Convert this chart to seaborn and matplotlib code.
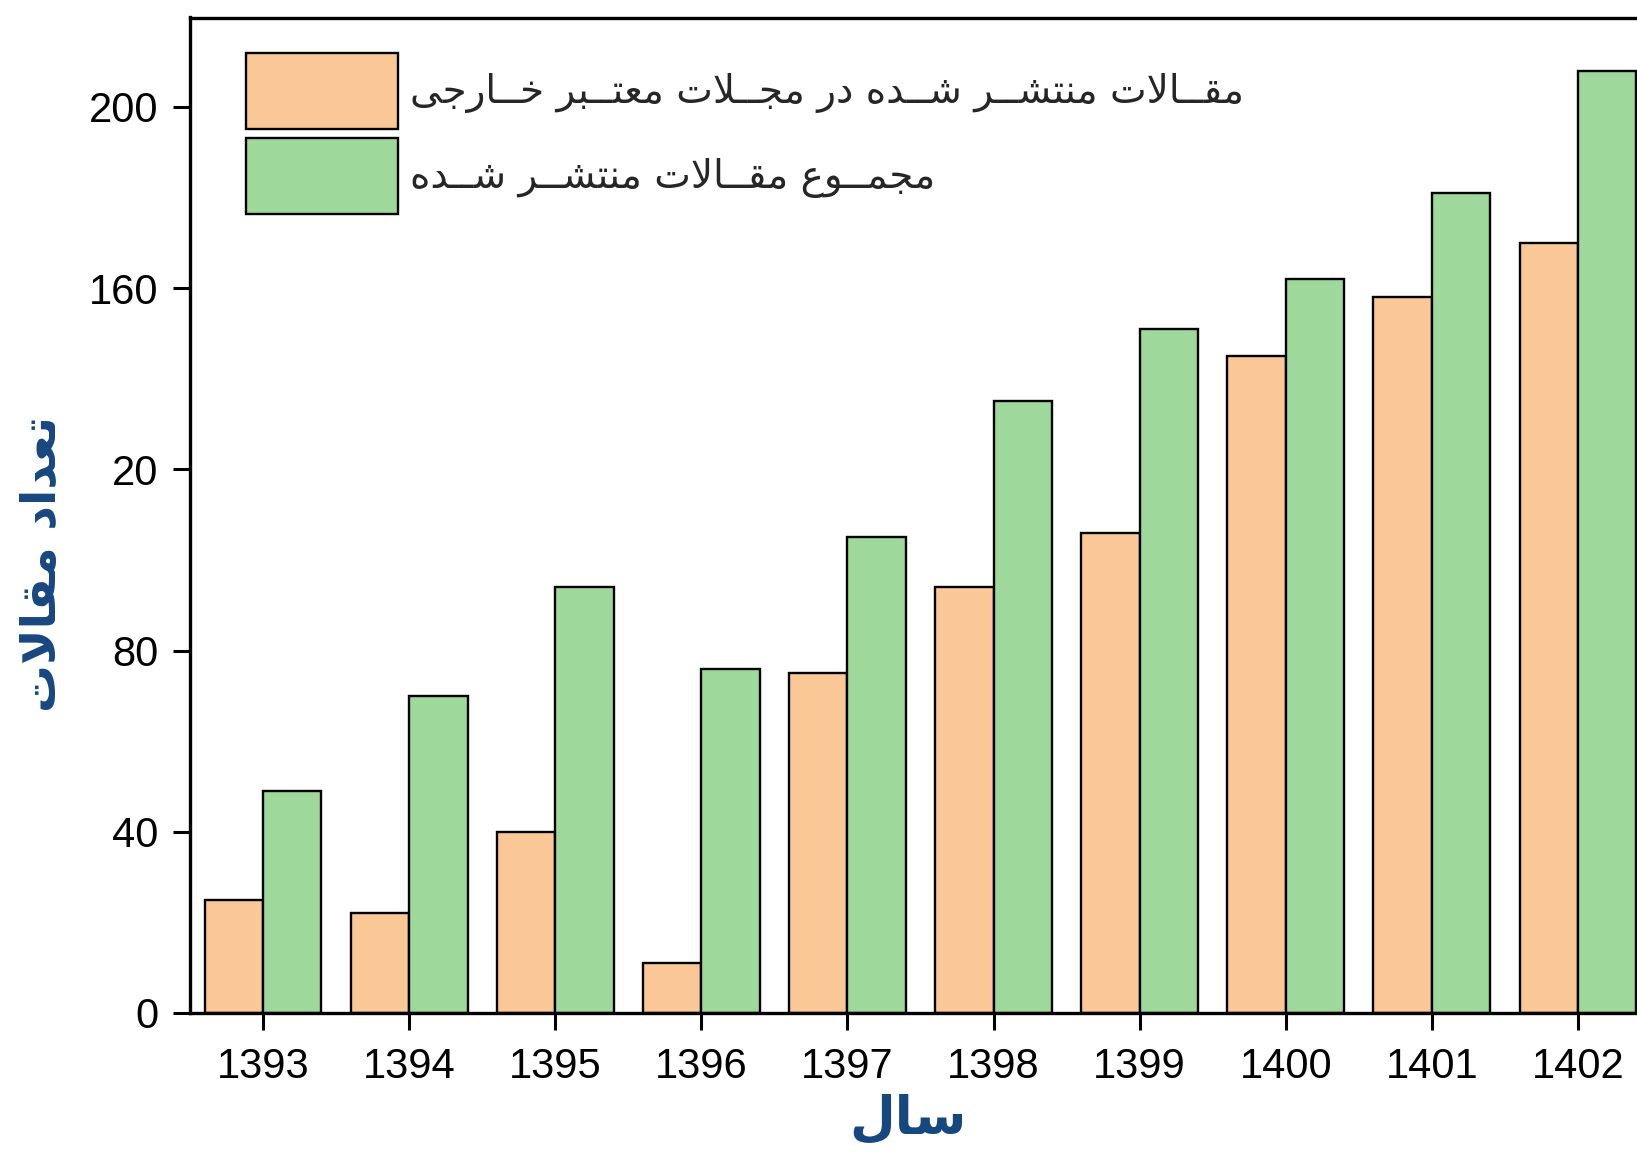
import numpy as np
import pandas as pd
import matplotlib
matplotlib.use("Agg")
import matplotlib.pyplot as plt
import seaborn as sns
from matplotlib.patches import Patch

# ---------------- data ----------------
years = ["1393", "1394", "1395", "1396", "1397", "1398", "1399", "1400", "1401", "1402"]
foreign_journals = [25, 22, 40, 11, 75, 94, 106, 145, 158, 170]
total_articles = [49, 70, 94, 76, 105, 135, 151, 162, 181, 208]
label_foreign = "مقــالات منتشــر شــده در مجــلات معتــبر خــارجی"
label_total = "مجمــوع مقــالات منتشــر شــده"
ytick_values = [0, 40, 80, 120, 160, 200]
ytick_labels = ["0", "40", "80", "20", "160", "200"]
xlabel_text = "سال"
ylabel_text = "تعداد مقالات"
bar_colors = ["#FAC896", "#9FD89B"]
label_color = "#17477F"

# ------------- minimal Arabic/Persian shaping (visual order) -------------
FORMS = {
    "\u0627": ("\uFE8D", "\uFE8E", None, None),
    "\u0628": ("\uFE8F", "\uFE90", "\uFE91", "\uFE92"),
    "\u062A": ("\uFE95", "\uFE96", "\uFE97", "\uFE98"),
    "\u062C": ("\uFE9D", "\uFE9E", "\uFE9F", "\uFEA0"),
    "\u062E": ("\uFEA5", "\uFEA6", "\uFEA7", "\uFEA8"),
    "\u062F": ("\uFEA9", "\uFEAA", None, None),
    "\u0631": ("\uFEAD", "\uFEAE", None, None),
    "\u0633": ("\uFEB1", "\uFEB2", "\uFEB3", "\uFEB4"),
    "\u0634": ("\uFEB5", "\uFEB6", "\uFEB7", "\uFEB8"),
    "\u0639": ("\uFEC9", "\uFECA", "\uFECB", "\uFECC"),
    "\u0642": ("\uFED5", "\uFED6", "\uFED7", "\uFED8"),
    "\u0644": ("\uFEDD", "\uFEDE", "\uFEDF", "\uFEE0"),
    "\u0645": ("\uFEE1", "\uFEE2", "\uFEE3", "\uFEE4"),
    "\u0646": ("\uFEE5", "\uFEE6", "\uFEE7", "\uFEE8"),
    "\u0647": ("\uFEE9", "\uFEEA", "\uFEEB", "\uFEEC"),
    "\u0648": ("\uFEED", "\uFEEE", None, None),
    "\u06CC": ("\uFEEF", "\uFEF0", "\uFEF3", "\uFEF4"),
}
TATWEEL = "\u0640"


def _dual(c):
    return c == TATWEEL or (c in FORMS and FORMS[c][2] is not None)


def _joinable(c):
    return c == TATWEEL or c in FORMS


def shape(text):
    out = []
    i, n = 0, len(text)
    while i < n:
        c = text[i]
        prev = text[i - 1] if i > 0 else None
        jp = prev is not None and _dual(prev) and _joinable(c)
        if c == "\u0644" and i + 1 < n and text[i + 1] == "\u0627":
            out.append("\uFEFC" if jp else "\uFEFB")
            i += 2
            continue
        if c not in FORMS:
            out.append(c)
            i += 1
            continue
        nxt = text[i + 1] if i + 1 < n else None
        jn = _dual(c) and nxt is not None and _joinable(nxt)
        iso, fin, ini, med = FORMS[c]
        if jp and jn:
            g = med
        elif jp:
            g = fin
        elif jn:
            g = ini
        else:
            g = iso
        out.append(g)
        i += 1
    return "".join(reversed(out))


# ---------------- figure ----------------
sns.set_style("white")
plt.rcParams["font.family"] = ["Liberation Sans", "DejaVu Sans"]

W, H, DPI = 1637, 1155, 100
fig = plt.figure(figsize=(W / DPI, H / DPI), dpi=DPI)

# axes placement in pixels (right edge runs past the figure, as in the reference)
ax_left, ax_right, ax_top, ax_bottom = 190, 1651, 17.5, 1013
ax = fig.add_axes([ax_left / W, (H - ax_bottom) / H,
                   (ax_right - ax_left) / W, (ax_bottom - ax_top) / H])

df = pd.DataFrame({
    "year": years * 2,
    "value": foreign_journals + total_articles,
    "series": [label_foreign] * len(years) + [label_total] * len(years),
})

sns.barplot(data=df, x="year", y="value", hue="series", order=years,
            hue_order=[label_foreign, label_total], palette=bar_colors,
            saturation=1, width=0.8, edgecolor="black", linewidth=1.7,
            legend=False, ax=ax)

ax.set_xlim(-0.5, 9.5)
ax.set_ylim(0, 219.7)
ax.set_yticks(ytick_values)
ax.set_yticklabels(ytick_labels)

for s in ax.spines.values():
    s.set_linewidth(2.4)
    s.set_color("black")

ax.tick_params(axis="both", direction="out", length=12.5, width=2.2,
               labelsize=30, colors="black", bottom=True, left=True,
               top=False, right=False)
ax.tick_params(axis="x", pad=12)
ax.tick_params(axis="y", pad=10)

ax.set_xlabel(shape(xlabel_text), fontsize=38, fontweight="bold",
              color=label_color, family=["DejaVu Sans"])
ax.xaxis.label.set_va("center")
ax.xaxis.set_label_coords((908 - ax_left) / (ax_right - ax_left),
                          -(1119 - ax_bottom) / (ax_bottom - ax_top))

ax.set_ylabel(shape(ylabel_text), fontsize=34.5, fontweight="bold",
              color=label_color, family=["DejaVu Sans"])
ax.yaxis.label.set_va("center")
ax.yaxis.set_label_coords(-(ax_left - 42) / (ax_right - ax_left),
                          (ax_bottom - 564) / (ax_bottom - ax_top))

# legend
leg_fs = 28
fs_px = leg_fs * DPI / 72
patch_h_px = 76
hh = (patch_h_px / fs_px - 0.245) / 0.65
handles = [Patch(facecolor=bar_colors[0], edgecolor="black", linewidth=1.7),
           Patch(facecolor=bar_colors[1], edgecolor="black", linewidth=1.7)]
leg = ax.legend(handles, [shape(label_foreign), shape(label_total)],
                loc="upper left", bbox_to_anchor=(246 / W, 1 - 53 / H),
                bbox_transform=fig.transFigure, frameon=False,
                borderpad=0, borderaxespad=0,
                handlelength=152 / fs_px, handleheight=hh,
                labelspacing=9 / fs_px, handletextpad=12 / fs_px,
                prop={"family": ["DejaVu Sans"], "size": leg_fs})

fig.savefig("out.png", dpi=DPI)
